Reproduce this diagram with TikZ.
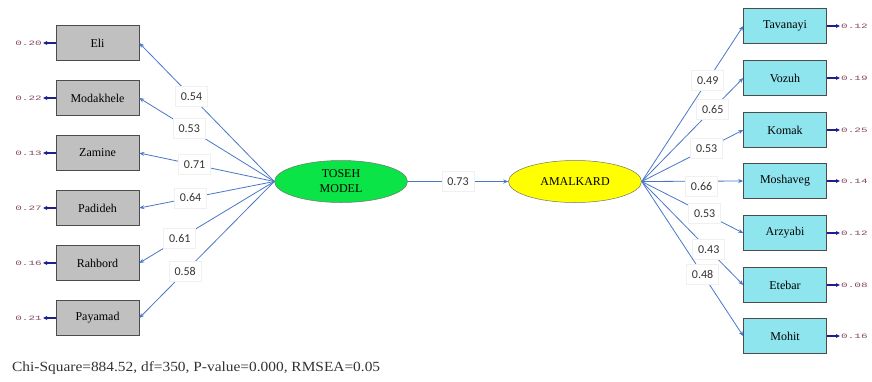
\documentclass[tikz,border=0pt]{standalone}
\usepackage{fontspec}
\setmainfont{Liberation Serif}
\newfontfamily\numfont{Carlito}
\newfontfamily\errfont{Liberation Mono}
\usetikzlibrary{arrows.meta,shapes.geometric}
\definecolor{linkblue}{RGB}{72,118,200}
\definecolor{graybox}{RGB}{192,192,192}
\definecolor{cyanbox}{RGB}{142,229,238}
\definecolor{greenell}{RGB}{10,228,70}
\definecolor{yellowell}{RGB}{255,255,0}
\definecolor{navyarr}{RGB}{30,30,140}
\definecolor{errcol}{RGB}{130,70,100}
\newcommand{\errv}[1]{\scalebox{1}[0.6]{#1}}
\begin{document}
\begin{tikzpicture}[x=1pt,y=-1pt,
  obsL/.style={draw=black!70, line width=0.6pt, fill=graybox, minimum width=83pt, minimum height=35pt, inner sep=0pt, font=\fontsize{12}{12}\selectfont},
  obsR/.style={obsL, fill=cyanbox},
  lat/.style={ellipse, draw=black!55, line width=0.5pt, minimum width=133pt, minimum height=42pt, inner sep=0pt, align=center, font=\fontsize{12}{15}\selectfont},
  load/.style={draw=linkblue, line width=0.8pt, -{Stealth[length=5pt,width=4pt]}},
  coef/.style={fill=white, draw=black!6, minimum width=32pt, minimum height=20pt, inner sep=1pt, font=\numfont\fontsize{12}{12}\selectfont, text=black!80},
  errarr/.style={draw=navyarr, line width=1.1pt, -{Triangle[length=4pt,width=3.5pt]}},
  errtxt/.style={inner sep=1pt, text=errcol, font=\errfont\fontsize{11}{11}\selectfont}
]
\useasboundingbox (0,0) rectangle (872,381);

% latent variables
\node[lat, fill=greenell] (toseh) at (341,181.5) {TOSEH\\MODEL};
\node[lat, fill=yellowell] (amal) at (575,181.5) {AMALKARD};
\coordinate (tw) at (toseh.west);
\coordinate (ae) at (amal.east);

% left indicators
\node[obsL] (eli) at (97.5,43) {Eli};
\node[obsL] (mod) at (97.5,98) {Modakhele};
\node[obsL] (zam) at (97.5,153) {Zamine};
\node[obsL] (pad) at (97.5,208) {Padideh};
\node[obsL] (rah) at (97.5,263) {Rahbord};
\node[obsL] (pay) at (97.5,318) {Payamad};

% right indicators
\node[obsR] (tav) at (785,26) {Tavanayi};
\node[obsR] (voz) at (785,78) {Vozuh};
\node[obsR] (kom) at (785,130) {Komak};
\node[obsR] (mos) at (785,181) {Moshaveg};
\node[obsR] (arz) at (785,233) {Arzyabi};
\node[obsR] (ete) at (785,285) {Etebar};
\node[obsR] (moh) at (785,336) {Mohit};

% error variances left
\node[errtxt, anchor=east] (e1) at (43,43) {\errv{0.20}};
\node[errtxt, anchor=east] (e2) at (43,98) {\errv{0.22}};
\node[errtxt, anchor=east] (e3) at (43,153) {\errv{0.13}};
\node[errtxt, anchor=east] (e4) at (43,208) {\errv{0.27}};
\node[errtxt, anchor=east] (e5) at (43,263) {\errv{0.16}};
\node[errtxt, anchor=east] (e6) at (43,318) {\errv{0.21}};
\draw[errarr] (eli.west) -- (e1.east);
\draw[errarr] (mod.west) -- (e2.east);
\draw[errarr] (zam.west) -- (e3.east);
\draw[errarr] (pad.west) -- (e4.east);
\draw[errarr] (rah.west) -- (e5.east);
\draw[errarr] (pay.west) -- (e6.east);

% error variances right
\node[errtxt, anchor=west] (r1) at (840,26) {\errv{0.12}};
\node[errtxt, anchor=west] (r2) at (840,78) {\errv{0.19}};
\node[errtxt, anchor=west] (r3) at (840,130) {\errv{0.25}};
\node[errtxt, anchor=west] (r4) at (840,181) {\errv{0.14}};
\node[errtxt, anchor=west] (r5) at (840,233) {\errv{0.12}};
\node[errtxt, anchor=west] (r6) at (840,285) {\errv{0.08}};
\node[errtxt, anchor=west] (r7) at (840,336) {\errv{0.16}};
\draw[errarr] (tav.east) -- (r1.west);
\draw[errarr] (voz.east) -- (r2.west);
\draw[errarr] (kom.east) -- (r3.west);
\draw[errarr] (mos.east) -- (r4.west);
\draw[errarr] (arz.east) -- (r5.west);
\draw[errarr] (ete.east) -- (r6.west);
\draw[errarr] (moh.east) -- (r7.west);

% loadings left
\draw[load] (tw) -- node[coef, pos=0.613] {0.54} (eli.east);
\draw[load] (tw) -- node[coef, pos=0.63] {0.53} (mod.east);
\draw[load] (tw) -- node[coef, pos=0.59] {0.71} (zam.east);
\draw[load] (tw) -- node[coef, pos=0.62] {0.64} (pad.east);
\draw[load] (tw) -- node[coef, pos=0.70] {0.61} (rah.east);
\draw[load] (tw) -- node[coef, pos=0.66] {0.58} (pay.east);

% structural path
\draw[load] (toseh.east) -- node[coef] {0.73} (amal.west);

% loadings right
\draw[load] (ae) -- node[coef, pos=0.65] {0.49} (tav.west);
\draw[load] (ae) -- node[coef, pos=0.70] {0.65} (voz.west);
\draw[load] (ae) -- node[coef, pos=0.64] {0.53} (kom.west);
\draw[load] (ae) -- node[coef, pos=0.59, yshift=-5pt] {0.66} (mos.west);
\draw[load] (ae) -- node[coef, pos=0.62] {0.53} (arz.west);
\draw[load] (ae) -- node[coef, pos=0.66] {0.43} (ete.west);
\draw[load] (ae) -- node[coef, pos=0.60] {0.48} (moh.west);

% fit statistics
\node[anchor=base west, inner sep=0pt, text=black!80, font=\fontsize{14}{14}\selectfont] (fit) at (12,371) {\scalebox{1.1}[1]{Chi-Square=884.52, df=350, P-value=0.000, RMSEA=0.05}};
\end{tikzpicture}
\end{document}
